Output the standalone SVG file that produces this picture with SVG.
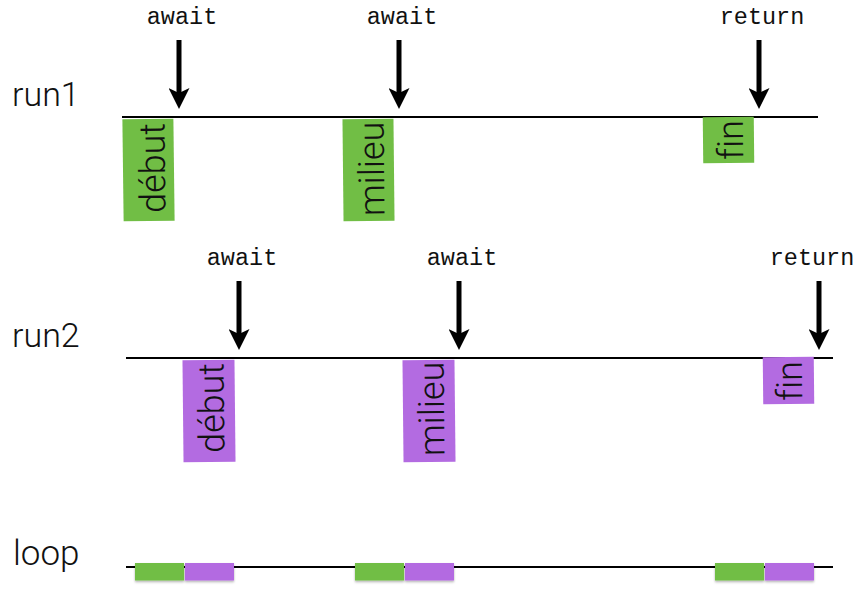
<svg xmlns="http://www.w3.org/2000/svg" width="865" height="598" viewBox="0 0 865 598">
<style>
.lbl{font-family:"Roboto","Liberation Sans",sans-serif;font-weight:300;font-size:34px;fill:#111}
.kw{font-family:"Liberation Mono","DejaVu Sans Mono",monospace;font-size:23.5px;fill:#111;text-anchor:middle}
.box{font-family:"Roboto","Liberation Sans",sans-serif;font-weight:300;font-size:36px;fill:#111;text-anchor:middle;font-variant-ligatures:none}
.tl{stroke:#000;stroke-width:2;fill:none}
.g{fill:#71be45}
.p{fill:#b36be1}
.arr{stroke:#000;stroke-width:5;fill:none;marker-end:url(#head)}
</style>
<defs>
<marker id="head" viewBox="0 0 21 21" refX="11" refY="10.5" markerWidth="21" markerHeight="21" markerUnits="userSpaceOnUse" orient="auto">
<path d="M0,0 L21,10.5 L0,21 L5,10.5 Z" fill="#000"/>
</marker>
<filter id="sh" x="-10%" y="-20%" width="120%" height="160%">
<feDropShadow dx="0" dy="1.5" stdDeviation="1.2" flood-color="#000" flood-opacity="0.3"/>
</filter>
</defs>
<rect width="865" height="598" fill="#fff"/>

<g id="labels">
<text class="lbl" x="12" y="106">run1</text>
<text class="lbl" x="12" y="347">run2</text>
<text class="lbl" x="13" y="565" style="font-size:35px">loop</text>
</g>

<g id="timelines">
<line class="tl" x1="122" y1="117" x2="818" y2="117"/>
<line class="tl" x1="126" y1="358" x2="833" y2="358"/>
<line class="tl" x1="126" y1="567" x2="833" y2="567"/>
</g>

<g id="keywords">
<text class="kw" x="182" y="24">await</text>
<text class="kw" x="402" y="24">await</text>
<text class="kw" x="762" y="24">return</text>
<text class="kw" x="242" y="265">await</text>
<text class="kw" x="462" y="265">await</text>
<text class="kw" x="812" y="265">return</text>
</g>

<g id="connectors">
<line class="arr" x1="179" y1="40" x2="179" y2="99"/>
<line class="arr" x1="399" y1="40" x2="399" y2="99"/>
<line class="arr" x1="759" y1="40" x2="759" y2="99"/>
<line class="arr" x1="239" y1="281" x2="239" y2="340"/>
<line class="arr" x1="459" y1="281" x2="459" y2="340"/>
<line class="arr" x1="819" y1="281" x2="819" y2="340"/>
</g>

<g id="run1-debut" transform="rotate(-0.7 149 170)">
<rect class="g" x="123" y="119" width="51" height="102"/>
<text class="box" transform="translate(165 168) rotate(-90)">début</text>
</g>
<g id="run1-milieu" transform="rotate(-0.6 369 170)">
<rect class="g" x="343" y="119" width="51" height="102"/>
<text class="box" transform="translate(384 169) rotate(-90)">milieu</text>
</g>
<g id="run1-fin" transform="rotate(-0.6 729 140)">
<rect class="g" x="703" y="117" width="51" height="46"/>
<text class="box" transform="translate(743 140) rotate(-90)">fin</text>
</g>

<g id="run2-debut" transform="rotate(-0.6 209 411)">
<rect class="p" x="183" y="360" width="52" height="102"/>
<text class="box" transform="translate(224 408) rotate(-90)">début</text>
</g>
<g id="run2-milieu" transform="rotate(-0.6 429 411)">
<rect class="p" x="403" y="360" width="52" height="102"/>
<text class="box" transform="translate(444 409) rotate(-90)">milieu</text>
</g>
<g id="run2-fin" transform="rotate(-0.6 789 381)">
<rect class="p" x="763" y="357" width="51" height="47"/>
<text class="box" transform="translate(802 381) rotate(-90)">fin</text>
</g>

<g id="loop-slots" filter="url(#sh)">
<rect class="g" x="135" y="563" width="49" height="17.5"/>
<rect class="p" x="185" y="563" width="49" height="17.5"/>
<rect class="g" x="355" y="563" width="49" height="17.5"/>
<rect class="p" x="405" y="563" width="49" height="17.5"/>
<rect class="g" x="715" y="563" width="49" height="17.5"/>
<rect class="p" x="765" y="563" width="49" height="17.5"/>
</g>
</svg>
